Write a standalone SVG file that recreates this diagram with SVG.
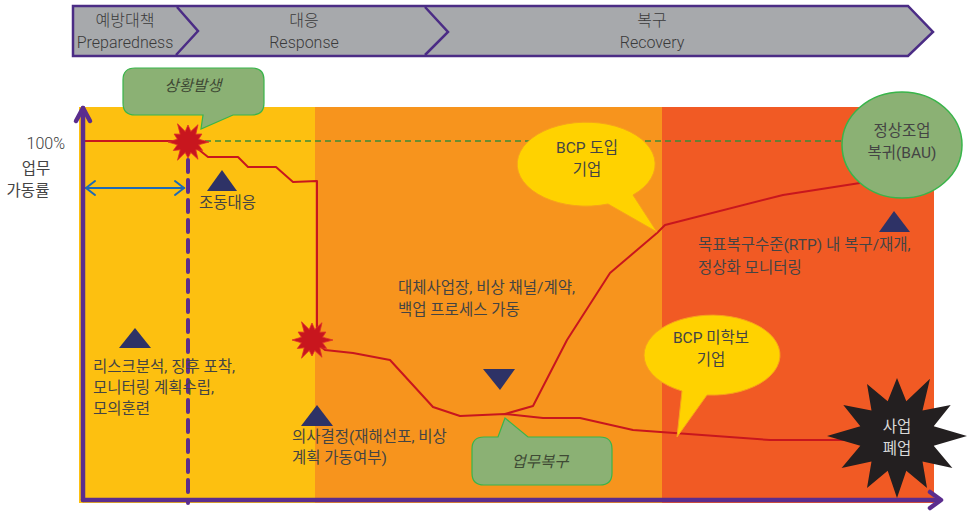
<svg xmlns="http://www.w3.org/2000/svg" width="969" height="511" viewBox="0 0 969 511">
<defs>
<style>
text{font-family:Roboto,"Noto Sans CJK KR","Liberation Sans",sans-serif;fill:#444;}
.hd{font-size:16px;font-weight:300;fill:#3a3a3a;text-anchor:middle;}
.lb{font-size:15.5px;}
.c{text-anchor:middle;}
.it{font-style:italic;font-size:15.5px;text-anchor:middle;fill:#3f4a35;}
.tri{fill:#2E3266;}
.ax{stroke:#5B2D8E;stroke-width:4.5;fill:none;stroke-linecap:round;stroke-linejoin:round;}
.red{stroke:#C8161E;stroke-width:2;fill:none;stroke-linejoin:round;}
.blue{stroke:#1E6AB5;stroke-width:2;fill:none;stroke-linecap:round;}
.callg{fill:#8BB174;stroke:#39B54A;stroke-width:1.2;}
.cally{fill:#FFD200;stroke:#F7A21B;stroke-width:1;}
</style>
<polygon id="burst" points="21,0 10.6,2.8 14.7,8.5 7.8,7.8 10,17.3 2.8,10.6 0,16 -2.8,10.6 -10.5,18.2 -7.8,7.8 -14.7,8.5 -10.6,2.8 -20,0 -10.6,-2.8 -13.9,-8 -7.8,-7.8 -10.5,-18.2 -2.8,-10.6 0,-17 2.8,-10.6 10,-17.3 7.8,-7.8 13.9,-8 10.6,-2.8" fill="#C8161E" stroke="#E0302A" stroke-width="0.8"/>
</defs>

<g id="header">
<polygon points="73,6 908,6 933,32 908,56 73,56" fill="#A7A9AC" stroke="#4B2C85" stroke-width="2.5"/>
<polyline points="177,7 198,31 176,55" fill="none" stroke="#4B2C85" stroke-width="2.5"/>
<polyline points="425,7 448,32 425,55" fill="none" stroke="#4B2C85" stroke-width="2.5"/>
<text class="hd" x="125" y="26">예방대책</text>
<text class="hd" x="125" y="48">Preparedness</text>
<text class="hd" x="304" y="26">대응</text>
<text class="hd" x="304" y="48">Response</text>
<text class="hd" x="652" y="26">복구</text>
<text class="hd" x="652" y="48">Recovery</text>
</g>

<g id="panels">
<rect x="79" y="107" width="236" height="396" fill="#FDC010"/>
<rect x="315" y="107" width="347" height="396" fill="#F7941D"/>
<rect x="662" y="107" width="272" height="396" fill="#F15A24"/>
</g>

<g id="axis-labels">
<text x="65" y="149" style="font-size:16px;font-weight:300;text-anchor:end;fill:#3a3a3a">100%</text>
<text class="lb c" x="36" y="174">업무</text>
<text class="lb c" x="28" y="196">가동률</text>
</g>

<g id="connectors">
<line x1="205" y1="141" x2="843" y2="141" stroke="#3D8B37" stroke-width="1.5" stroke-dasharray="6 4"/>
<polyline class="red" points="84,141 188,141 203,153 208,157 238,157 248,167 276,167 293,182 317,181 317,340 312,340 325,350 353,353 390,360 433,407 460,416 505,414 543,418 580,418 633,430 770,440 847,440"/>
<polyline class="red" points="505,414 533,406 567,340 610,273 657,233 665,225 783,195 860,183"/>
<line x1="188" y1="160" x2="188" y2="503" stroke="#5B2D8E" stroke-width="4" stroke-dasharray="12 8" stroke-linecap="round"/>
<line class="blue" x1="86" y1="188" x2="184" y2="188"/>
<polyline class="blue" points="95,181 86,188 95,195"/>
<polyline class="blue" points="175,181 184,188 175,195"/>
<polyline class="ax" points="83,500 83,108"/>
<polyline class="ax" points="76,121 83,108 90,121"/>
<polyline class="ax" points="83,500 940,500"/>
<polyline class="ax" points="930,492 941,500 930,508"/>
</g>

<g id="event-start"><use href="#burst" x="188" y="142"/></g>
<g id="event-decision"><use href="#burst" x="312" y="340"/></g>

<g id="node-situation">
<path class="callg" d="M135,68 H252 Q264,68 264,80 V103 Q264,115 252,115 H233 L201,129 L203,115 H135 Q123,115 123,103 V80 Q123,68 135,68 Z"/>
<text class="it" x="193" y="91">상황발생</text>
</g>

<g id="node-initial">
<polygon class="tri" points="222,170 207,191 237,191"/>
<text class="lb" x="199" y="208">조동대응</text>
</g>

<g id="node-prepare">
<polygon class="tri" points="135,328 119,348 151,348"/>
<text class="lb" x="93" y="372">리스크분석, 징후 포착,</text>
<text class="lb" x="93" y="393">모니터링 계획수립,</text>
<text class="lb" x="93" y="414">모의훈련</text>
</g>

<g id="node-decision">
<polygon class="tri" points="317,405 301,426 333,426"/>
<text class="lb" x="292" y="442">의사결정(재해선포, 비상</text>
<text class="lb" x="292" y="463">계획 가동여부)</text>
</g>

<g id="node-alternate">
<text class="lb" x="398" y="293">대체사업장, 비상 채널/계약,</text>
<text class="lb" x="398" y="315">백업 프로세스 가동</text>
</g>

<g id="node-recovery-mark">
<polygon class="tri" points="483,369 515,369 500,390"/>
</g>

<g id="node-business-recovery">
<path class="callg" d="M484,437 H498 L505,418 L528,437 H600 Q612,437 612,449 V473 Q612,485 600,485 H484 Q472,485 472,473 V449 Q472,437 484,437 Z"/>
<text class="it" x="540" y="467">업무복구</text>
</g>

<g id="node-bcp-adopted">
<path class="cally" d="M633,195 L657,232 L608,204 A69,42 0 1 1 633,195 Z"/>
<text class="lb c" x="587" y="153">BCP 도입</text>
<text class="lb c" x="587" y="175">기업</text>
</g>

<g id="node-rtp">
<polygon class="tri" points="894,211 879,232 910,232"/>
<text class="lb" x="698" y="250">목표복구수준(RTP) 내 복구/재개,</text>
<text class="lb" x="698" y="273">정상화 모니터링</text>
</g>

<g id="node-bau">
<ellipse cx="902" cy="145" rx="60" ry="53" fill="#8BB174" stroke="#39B54A" stroke-width="1.5"/>
<text class="lb c" x="902" y="136">정상조업</text>
<text class="lb c" x="902" y="158">복귀(BAU)</text>
</g>

<g id="node-bcp-missing">
<path class="cally" d="M682,391 L677,437 L707,395 A68,40 0 1 0 682,391 Z"/>
<text class="lb c" x="711" y="343">BCP 미학보</text>
<text class="lb c" x="711" y="365">기업</text>
</g>

<g id="node-closure">
<polygon points="897,378 906.3,401.2 930,378.8 922.5,410.5 950.7,405 933.7,426.2 967,436 933.7,445.8 952.4,468 922.5,461.5 927,488 906.3,470.8 897,498 887.7,470.8 867,488 871.5,461.5 841.6,468 860.3,445.8 827,436 860.3,426.2 843.3,405 871.5,410.5 867,384 887.7,401.2" fill="#231F20"/>
<text class="lb c" x="897" y="432" style="fill:#d8d8d8">사업</text>
<text class="lb c" x="897" y="454" style="fill:#d8d8d8">폐업</text>
</g>
</svg>
